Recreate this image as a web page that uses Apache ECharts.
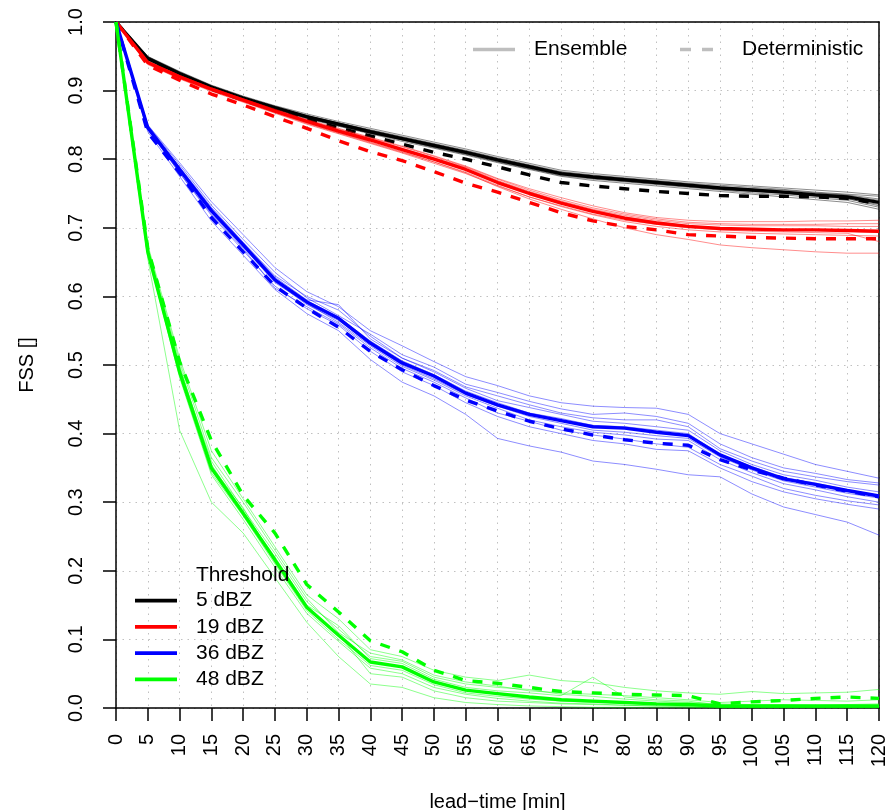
<!DOCTYPE html>
<html>
<head>
<meta charset="utf-8">
<script src="https://cdn.jsdelivr.net/npm/echarts@6/dist/echarts.min.js"></script>
<style>
  html, body { margin: 0; padding: 0; background: #fff; }
  #main { width: 889px; height: 810px; }
</style>
</head>
<body>
<div id="main"></div>
<script>
// lead-time in minutes
var leadTime = [0, 5, 10, 15, 20, 25, 30, 35, 40, 45, 50, 55, 60, 65, 70, 75, 80, 85, 90, 95, 100, 105, 110, 115, 120];

var thresholdNames = ['5 dBZ', '19 dBZ', '36 dBZ', '48 dBZ'];
var thresholdColors = ['#000000', '#ff0000', '#0000ff', '#00ff00'];

// 5 dBZ
var mean5 = [1, 0.947, 0.925, 0.905, 0.889, 0.875, 0.862, 0.851, 0.84, 0.83, 0.82, 0.81, 0.799, 0.789, 0.779, 0.774, 0.77, 0.766, 0.762, 0.758, 0.755, 0.752, 0.748, 0.745, 0.737];
var det5 = [1, 0.945, 0.923, 0.902, 0.886, 0.871, 0.858, 0.846, 0.834, 0.822, 0.81, 0.8, 0.789, 0.777, 0.766, 0.761, 0.757, 0.753, 0.75, 0.747, 0.746, 0.746, 0.745, 0.743, 0.735];
var members5 = [
  [1, 0.949, 0.927, 0.907, 0.891, 0.877, 0.864, 0.853, 0.843, 0.833, 0.823, 0.813, 0.802, 0.792, 0.782, 0.777, 0.773, 0.769, 0.765, 0.762, 0.759, 0.756, 0.752, 0.749, 0.746],
  [1, 0.945, 0.923, 0.903, 0.887, 0.873, 0.86, 0.849, 0.838, 0.828, 0.817, 0.807, 0.796, 0.786, 0.776, 0.771, 0.767, 0.763, 0.759, 0.755, 0.751, 0.748, 0.744, 0.74, 0.73],
  [1, 0.948, 0.926, 0.906, 0.89, 0.876, 0.863, 0.852, 0.841, 0.831, 0.821, 0.811, 0.8, 0.79, 0.781, 0.776, 0.772, 0.768, 0.764, 0.76, 0.757, 0.755, 0.751, 0.748, 0.742],
  [1, 0.946, 0.924, 0.904, 0.888, 0.874, 0.861, 0.85, 0.839, 0.829, 0.819, 0.809, 0.798, 0.788, 0.778, 0.772, 0.768, 0.764, 0.76, 0.756, 0.753, 0.75, 0.746, 0.742, 0.734],
  [1, 0.95, 0.928, 0.908, 0.892, 0.878, 0.866, 0.855, 0.845, 0.835, 0.825, 0.815, 0.804, 0.794, 0.784, 0.779, 0.775, 0.771, 0.767, 0.764, 0.761, 0.758, 0.755, 0.752, 0.748],
  [1, 0.944, 0.922, 0.902, 0.886, 0.872, 0.859, 0.848, 0.837, 0.826, 0.816, 0.806, 0.795, 0.785, 0.775, 0.769, 0.765, 0.761, 0.757, 0.753, 0.749, 0.745, 0.741, 0.737, 0.727],
  [1, 0.947, 0.925, 0.906, 0.89, 0.875, 0.863, 0.853, 0.842, 0.832, 0.822, 0.812, 0.801, 0.791, 0.78, 0.775, 0.771, 0.767, 0.763, 0.759, 0.756, 0.753, 0.75, 0.747, 0.74],
  [1, 0.946, 0.924, 0.904, 0.888, 0.874, 0.86, 0.849, 0.838, 0.828, 0.818, 0.808, 0.797, 0.787, 0.777, 0.773, 0.769, 0.765, 0.761, 0.757, 0.754, 0.751, 0.747, 0.743, 0.732]
];

// 19 dBZ
var mean19 = [1, 0.941, 0.92, 0.902, 0.886, 0.87, 0.855, 0.841, 0.828, 0.814, 0.8, 0.785, 0.766, 0.75, 0.736, 0.724, 0.714, 0.707, 0.702, 0.699, 0.698, 0.697, 0.697, 0.696, 0.695];
var det19 = [1, 0.937, 0.915, 0.895, 0.879, 0.862, 0.845, 0.827, 0.811, 0.798, 0.782, 0.765, 0.752, 0.737, 0.722, 0.71, 0.702, 0.697, 0.69, 0.688, 0.686, 0.685, 0.684, 0.684, 0.684];
var members19 = [
  [1, 0.943, 0.922, 0.904, 0.888, 0.873, 0.858, 0.845, 0.832, 0.819, 0.805, 0.79, 0.772, 0.757, 0.744, 0.732, 0.722, 0.715, 0.711, 0.709, 0.709, 0.709, 0.71, 0.71, 0.711],
  [1, 0.939, 0.918, 0.9, 0.884, 0.868, 0.852, 0.838, 0.824, 0.81, 0.796, 0.781, 0.762, 0.745, 0.731, 0.719, 0.709, 0.702, 0.697, 0.694, 0.692, 0.691, 0.69, 0.689, 0.688],
  [1, 0.942, 0.921, 0.903, 0.887, 0.871, 0.856, 0.843, 0.83, 0.816, 0.802, 0.788, 0.769, 0.753, 0.739, 0.727, 0.718, 0.711, 0.706, 0.704, 0.703, 0.703, 0.703, 0.702, 0.702],
  [1, 0.94, 0.919, 0.901, 0.885, 0.869, 0.853, 0.839, 0.825, 0.811, 0.796, 0.78, 0.76, 0.742, 0.727, 0.713, 0.7, 0.69, 0.683, 0.675, 0.671, 0.668, 0.665, 0.663, 0.663],
  [1, 0.941, 0.92, 0.902, 0.886, 0.87, 0.855, 0.842, 0.829, 0.815, 0.801, 0.786, 0.768, 0.752, 0.738, 0.726, 0.716, 0.709, 0.703, 0.7, 0.698, 0.697, 0.696, 0.695, 0.693],
  [1, 0.938, 0.917, 0.899, 0.883, 0.867, 0.851, 0.837, 0.823, 0.809, 0.794, 0.779, 0.761, 0.745, 0.732, 0.72, 0.711, 0.705, 0.7, 0.697, 0.695, 0.694, 0.693, 0.692, 0.68],
  [1, 0.942, 0.922, 0.904, 0.888, 0.872, 0.857, 0.844, 0.831, 0.818, 0.804, 0.789, 0.771, 0.755, 0.741, 0.729, 0.72, 0.713, 0.708, 0.706, 0.705, 0.705, 0.705, 0.706, 0.706]
];

// 36 dBZ
var mean36 = [1, 0.846, 0.785, 0.725, 0.675, 0.624, 0.592, 0.568, 0.532, 0.503, 0.484, 0.459, 0.442, 0.428, 0.419, 0.41, 0.408, 0.402, 0.397, 0.369, 0.35, 0.334, 0.326, 0.317, 0.309];
var det36 = [1, 0.839, 0.78, 0.715, 0.665, 0.615, 0.583, 0.555, 0.52, 0.493, 0.47, 0.449, 0.433, 0.418, 0.407, 0.398, 0.391, 0.386, 0.383, 0.362, 0.347, 0.335, 0.325, 0.316, 0.308];
var members36 = [
  [1, 0.85, 0.795, 0.738, 0.69, 0.642, 0.607, 0.585, 0.55, 0.528, 0.505, 0.483, 0.47, 0.455, 0.445, 0.44, 0.438, 0.437, 0.428, 0.4, 0.385, 0.37, 0.355, 0.345, 0.335],
  [1, 0.84, 0.775, 0.71, 0.66, 0.61, 0.575, 0.55, 0.508, 0.475, 0.455, 0.428, 0.393, 0.382, 0.373, 0.36, 0.355, 0.348, 0.34, 0.337, 0.312, 0.293, 0.282, 0.271, 0.252],
  [1, 0.847, 0.789, 0.73, 0.679, 0.63, 0.6, 0.58, 0.542, 0.51, 0.492, 0.468, 0.455, 0.442, 0.43, 0.423, 0.42, 0.42, 0.41, 0.378, 0.36, 0.345, 0.337, 0.33, 0.325],
  [1, 0.843, 0.78, 0.718, 0.667, 0.615, 0.582, 0.558, 0.52, 0.49, 0.47, 0.445, 0.425, 0.41, 0.4, 0.39, 0.385, 0.377, 0.375, 0.35, 0.33, 0.315, 0.305, 0.297, 0.29],
  [1, 0.848, 0.788, 0.728, 0.678, 0.628, 0.595, 0.588, 0.538, 0.51, 0.49, 0.466, 0.448, 0.438, 0.428, 0.418, 0.415, 0.41, 0.405, 0.375, 0.355, 0.34, 0.332, 0.322, 0.315],
  [1, 0.845, 0.783, 0.722, 0.672, 0.62, 0.59, 0.562, 0.528, 0.498, 0.478, 0.455, 0.437, 0.42, 0.41, 0.402, 0.398, 0.392, 0.39, 0.362, 0.343, 0.327, 0.318, 0.308, 0.3],
  [1, 0.849, 0.792, 0.733, 0.683, 0.635, 0.598, 0.572, 0.545, 0.515, 0.497, 0.472, 0.46, 0.447, 0.436, 0.428, 0.43, 0.425, 0.415, 0.385, 0.365, 0.35, 0.342, 0.333, 0.328],
  [1, 0.844, 0.78, 0.72, 0.67, 0.612, 0.585, 0.56, 0.525, 0.495, 0.475, 0.452, 0.43, 0.418, 0.405, 0.398, 0.392, 0.385, 0.38, 0.355, 0.338, 0.32, 0.31, 0.302, 0.296],
  [1, 0.846, 0.786, 0.726, 0.676, 0.625, 0.594, 0.57, 0.535, 0.506, 0.486, 0.462, 0.445, 0.43, 0.422, 0.412, 0.41, 0.405, 0.4, 0.37, 0.352, 0.336, 0.328, 0.318, 0.31],
  [1, 0.846, 0.787, 0.727, 0.674, 0.622, 0.588, 0.565, 0.53, 0.5, 0.48, 0.457, 0.44, 0.425, 0.415, 0.405, 0.402, 0.397, 0.393, 0.366, 0.347, 0.331, 0.322, 0.313, 0.306]
];

// 48 dBZ
var mean48 = [1, 0.665, 0.49, 0.35, 0.284, 0.216, 0.147, 0.106, 0.067, 0.06, 0.038, 0.026, 0.021, 0.016, 0.012, 0.01, 0.008, 0.006, 0.005, 0.003, 0.003, 0.003, 0.003, 0.003, 0.003];
var det48 = [1, 0.67, 0.505, 0.39, 0.31, 0.255, 0.18, 0.14, 0.098, 0.082, 0.055, 0.04, 0.036, 0.03, 0.024, 0.022, 0.02, 0.019, 0.018, 0.006, 0.009, 0.011, 0.014, 0.016, 0.014];
var members48 = [
  [1, 0.655, 0.405, 0.3, 0.255, 0.19, 0.125, 0.075, 0.035, 0.03, 0.015, 0.008, 0.005, 0.003, 0.002, 0.001, 0.001, 0.001, 0.001, 0, 0, 0, 0, 0, 0],
  [1, 0.675, 0.51, 0.375, 0.305, 0.235, 0.165, 0.13, 0.085, 0.075, 0.055, 0.045, 0.04, 0.048, 0.04, 0.037, 0.03, 0.025, 0.022, 0.02, 0.024, 0.021, 0.022, 0.023, 0.027],
  [1, 0.668, 0.495, 0.36, 0.29, 0.225, 0.155, 0.115, 0.075, 0.068, 0.045, 0.035, 0.03, 0.027, 0.02, 0.017, 0.013, 0.01, 0.008, 0.006, 0.005, 0.005, 0.004, 0.005, 0.006],
  [1, 0.662, 0.482, 0.34, 0.275, 0.205, 0.138, 0.097, 0.058, 0.05, 0.03, 0.02, 0.014, 0.01, 0.007, 0.006, 0.004, 0.003, 0.002, 0.001, 0.001, 0.001, 0.001, 0.001, 0.001],
  [1, 0.667, 0.492, 0.355, 0.286, 0.22, 0.15, 0.12, 0.072, 0.065, 0.042, 0.03, 0.025, 0.022, 0.018, 0.045, 0.016, 0.012, 0.01, 0.004, 0.004, 0.003, 0.003, 0.004, 0.004],
  [1, 0.663, 0.485, 0.343, 0.28, 0.21, 0.142, 0.1, 0.062, 0.055, 0.034, 0.022, 0.017, 0.013, 0.01, 0.008, 0.007, 0.005, 0.004, 0.002, 0.002, 0.002, 0.002, 0.002, 0.002],
  [1, 0.666, 0.5, 0.352, 0.292, 0.212, 0.145, 0.108, 0.05, 0.045, 0.025, 0.015, 0.01, 0.008, 0.006, 0.005, 0.004, 0.003, 0.003, 0.002, 0.002, 0.002, 0.002, 0.002, 0.002],
  [1, 0.67, 0.505, 0.365, 0.3, 0.23, 0.16, 0.11, 0.08, 0.07, 0.048, 0.038, 0.032, 0.025, 0.022, 0.02, 0.018, 0.015, 0.012, 0.008, 0.01, 0.012, 0.011, 0.01, 0.012]
];

var allMembers = [members5, members19, members36, members48];
var allMeans = [mean5, mean19, mean36, mean48];
var allDet = [det5, det19, det36, det48];

var FONT = '"Liberation Sans", Arial, Helvetica, sans-serif';

function makeLine(vals, color, width, opacity, type, z) {
  return {
    type: 'line',
    data: leadTime.map(function (t, i) { return [t, vals[i]]; }),
    symbol: 'none',
    silent: true,
    animation: false,
    z: z,
    clip: true,
    lineStyle: { color: color, width: width, opacity: opacity, type: type },
    emphasis: { disabled: true }
  };
}

var series = [];
for (var k = 0; k < 4; k++) {
  var col = thresholdColors[k];
  allMembers[k].forEach(function (m) {
    series.push(makeLine(m, col, 1, 0.45, 'solid', 2 + k));
  });
  series.push(makeLine(allMeans[k], col, 3.4, 1, 'solid', 2 + k));
  series.push(makeLine(allDet[k], col, 3.4, 1, [10, 10], 2 + k));
}

// legends drawn as graphic items
var graphics = [];
// top-right: line types
graphics.push({ type: 'line', shape: { x1: 473, y1: 49.5, x2: 515, y2: 49.5 }, style: { stroke: '#bebebe', lineWidth: 3.5 }, z: 100 });
graphics.push({ type: 'text', x: 534, y: 49.5, style: { text: 'Ensemble', font: '21px ' + FONT, fill: '#000', verticalAlign: 'middle' }, z: 100 });
graphics.push({ type: 'line', shape: { x1: 680, y1: 49.5, x2: 714, y2: 49.5 }, style: { stroke: '#bebebe', lineWidth: 3.5, lineDash: [11, 11] }, z: 100 });
graphics.push({ type: 'text', x: 742, y: 49.5, style: { text: 'Deterministic', font: '21px ' + FONT, fill: '#000', verticalAlign: 'middle' }, z: 100 });
// bottom-left: thresholds
graphics.push({ type: 'text', x: 196, y: 575, style: { text: 'Threshold', font: '21px ' + FONT, fill: '#000', verticalAlign: 'middle' }, z: 100 });
var legY = [600.7, 626.8, 653.2, 679.4];
for (var j = 0; j < 4; j++) {
  graphics.push({ type: 'line', shape: { x1: 135, y1: legY[j], x2: 177, y2: legY[j] }, style: { stroke: thresholdColors[j], lineWidth: 3.8 }, z: 100 });
  graphics.push({ type: 'text', x: 196, y: legY[j], style: { text: thresholdNames[j], font: '21px ' + FONT, fill: '#000', verticalAlign: 'middle' }, z: 100 });
}

var gridLine = { show: true, lineStyle: { color: '#c0c0c0', width: 1, type: [1.5, 5] } };
var boxLine = { show: true, onZero: false, lineStyle: { color: '#000', width: 1.5 } };

var chart = echarts.init(document.getElementById('main'), null, { renderer: 'canvas' });
chart.setOption({
  animation: false,
  backgroundColor: '#ffffff',
  textStyle: { fontFamily: FONT },
  grid: { left: 116, right: 10, top: 22, bottom: 102, containLabel: false, outerBoundsMode: 'none' },
  xAxis: [{
    type: 'value', min: 0, max: 120, interval: 5,
    name: 'lead\u2212time [min]', nameLocation: 'middle', nameGap: 84,
    nameTextStyle: { fontSize: 20, color: '#000', fontFamily: FONT },
    axisLine: boxLine,
    axisTick: { show: true, length: 13, lineStyle: { color: '#000', width: 1.5 } },
    axisLabel: { rotate: 90, margin: 26, fontSize: 20, color: '#000', fontFamily: FONT },
    splitLine: gridLine
  }, {
    // top edge of the box
    type: 'value', position: 'top', min: 0, max: 120, interval: 5,
    axisLine: boxLine, axisTick: { show: false }, axisLabel: { show: false }, splitLine: { show: false }
  }],
  yAxis: [{
    type: 'value', min: 0, max: 1, interval: 0.1,
    name: 'FSS []', nameLocation: 'middle', nameGap: 79, nameRotate: 90,
    nameTextStyle: { fontSize: 20, color: '#000', fontFamily: FONT },
    axisLine: boxLine,
    axisTick: { show: true, length: 13, lineStyle: { color: '#000', width: 1.5 } },
    axisLabel: {
      rotate: 90, margin: 30, fontSize: 20, color: '#000', fontFamily: FONT,
      formatter: function (v) { return v.toFixed(1); }
    },
    splitLine: gridLine
  }, {
    // right edge of the box
    type: 'value', position: 'right', min: 0, max: 1, interval: 0.1,
    axisLine: boxLine, axisTick: { show: false }, axisLabel: { show: false }, splitLine: { show: false }
  }],
  series: series,
  graphic: graphics
});
</script>
</body>
</html>
